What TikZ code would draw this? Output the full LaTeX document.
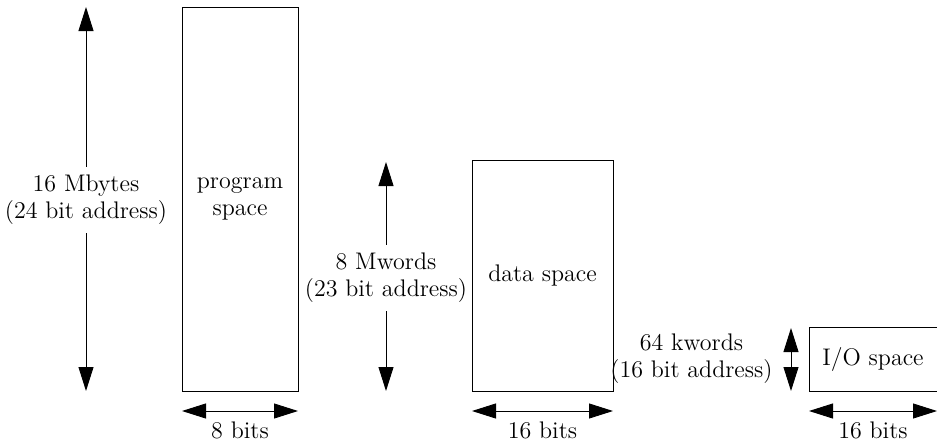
\documentclass[tikz,border=0pt]{standalone}
\usepackage{tikz}
\usetikzlibrary{arrows.meta,positioning,calc}

\begin{document}
\begin{tikzpicture}[x=0.5pt,y=-0.5pt,
 box/.style={draw,line width=0.45pt,inner sep=0pt,outer sep=0pt,align=center,font=\fontsize{12pt}{13.5pt}\selectfont},
 lbl/.style={align=center,inner sep=4pt,font=\fontsize{12pt}{13.5pt}\selectfont},
 dim/.style={-{Triangle[length=12pt,width=7.5pt]},line width=0.45pt},
 both/.style={{Triangle[length=12pt,width=7.5pt]}-{Triangle[length=12pt,width=7.5pt]},line width=0.45pt}
]
\useasboundingbox (0,0) rectangle (937,445);
% memory spaces
\node[box,minimum width=58pt,minimum height=192pt] (prog) at (240,199) {program\\space};
\node[box,minimum width=70.5pt,minimum height=115.5pt] (data) at (542.5,275.5) {data space};
\node[box,minimum width=64pt,minimum height=32pt] (io) at (873,359) {I/O space};
% address ranges
\node[lbl] (pl) at (86,200) {16 Mbytes\\(24 bit address)};
\coordinate (pt) at (86,7); \coordinate (pb) at (86,391);
\draw[dim] (pl)--(pt); \draw[dim] (pl)--(pb);
\node[lbl] (dl) at (386,278) {8 Mwords\\(23 bit address)};
\coordinate (dt) at (386,162); \coordinate (db) at (386,391);
\draw[dim] (dl)--(dt); \draw[dim] (dl)--(db);
\coordinate (it) at (791,328); \coordinate (ib) at (791,391);
\node[lbl,anchor=east] (il) at (781,359) {64 kwords\\(16 bit address)};
\draw[both] (it)--(ib);
% widths
\draw[both] ([yshift=-10pt]prog.south west) coordinate (pw1)--([yshift=-10pt]prog.south east) coordinate (pw2);
\node[lbl,below=1pt of $(pw1)!.5!(pw2)$] (pw) {8 bits};
\draw[both] ([yshift=-10pt]data.south west) coordinate (dw1)--([yshift=-10pt]data.south east) coordinate (dw2);
\node[lbl,below=1pt of $(dw1)!.5!(dw2)$] (dw) {16 bits};
\draw[both] ([yshift=-10pt]io.south west) coordinate (iw1)--([yshift=-10pt]io.south east) coordinate (iw2);
\node[lbl,below=1pt of $(iw1)!.5!(iw2)$] (iw) {16 bits};
\end{tikzpicture}
\end{document}
